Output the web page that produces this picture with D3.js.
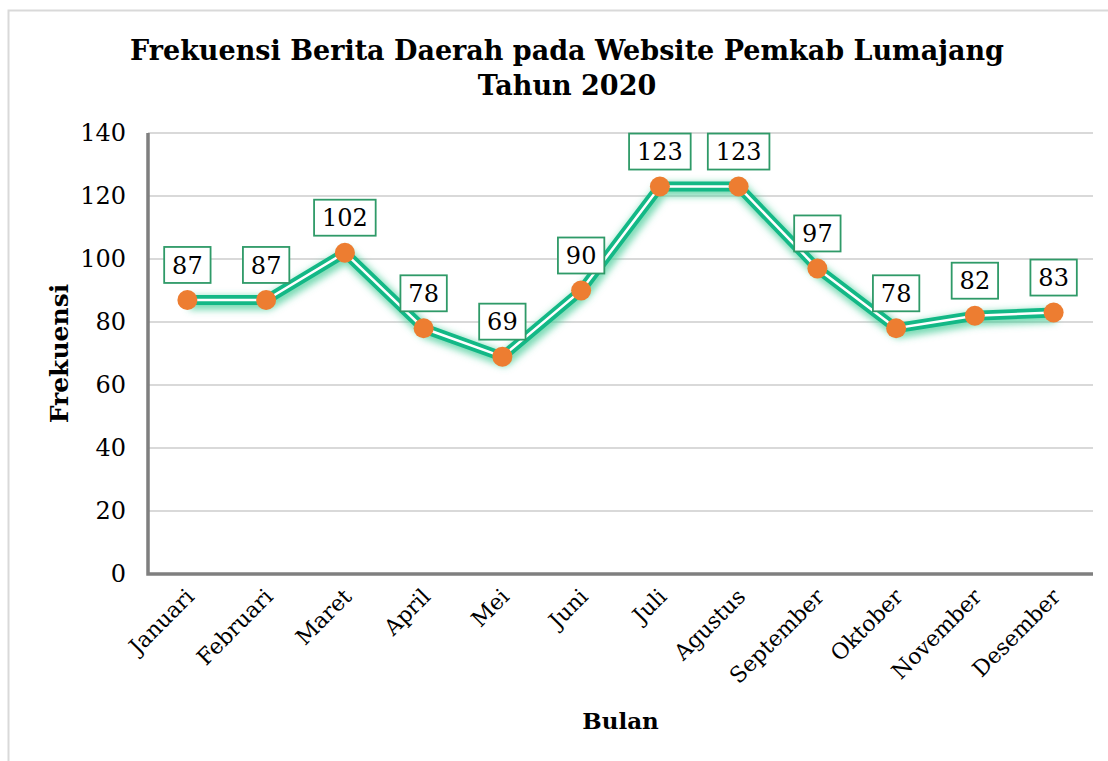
<!DOCTYPE html>
<html lang="id">
<head>
  <meta charset="UTF-8" />
  <title>Frekuensi Berita Daerah</title>
  <script src="https://d3js.org/d3.v7.min.js"></script>
  <style>
    body { margin: 0; background: #fff; }
    svg { display: block; font-family: "DejaVu Serif", serif; }
  </style>
</head>
<body>
  <div id="chart"></div>
  <script>
    const months = ["Januari", "Februari", "Maret", "April", "Mei", "Juni", "Juli",
      "Agustus", "September", "Oktober", "November", "Desember"];
    const counts = [87, 87, 102, 78, 69, 90, 123, 123, 97, 78, 82, 83];
    const yTicks = [0, 20, 40, 60, 80, 100, 120, 140];

    const width = 1108, height = 761;
    const margin = { top: 133, right: 15, bottom: 187, left: 148 };

    const svg = d3.select("#chart").append("svg")
      .attr("width", width)
      .attr("height", height);

    // outer chart border
    svg.append("rect")
      .attr("x", 8.5).attr("y", 10.5)
      .attr("width", width).attr("height", height)
      .attr("fill", "none")
      .attr("stroke", "#d9d9d9")
      .attr("stroke-width", 2);

    const x = d3.scaleBand()
      .domain(months)
      .range([margin.left, width - margin.right]);

    const y = d3.scaleLinear()
      .domain([0, 140])
      .range([height - margin.bottom, margin.top]);

    const defs = svg.append("defs");
    const glow = defs.append("filter").attr("id", "glow")
      .attr("x", "-10%").attr("y", "-30%").attr("width", "120%").attr("height", "160%");
    glow.append("feGaussianBlur").attr("stdDeviation", 3.5);

    // grid
    svg.append("g")
      .selectAll("line")
      .data(yTicks.filter(d => d > 0))
      .join("line")
      .attr("x1", margin.left).attr("x2", width - margin.right)
      .attr("y1", d => y(d)).attr("y2", d => y(d))
      .attr("stroke", "#d9d9d9")
      .attr("stroke-width", 2);

    // y axis
    const yAxis = svg.append("g")
      .attr("transform", `translate(${margin.left},0)`)
      .call(d3.axisLeft(y).tickValues(yTicks).tickSize(0).tickPadding(22));
    yAxis.select(".domain").remove();
    yAxis.selectAll("text")
      .attr("font-size", 24)
      .attr("font-family", "DejaVu Serif")
      .attr("fill", "#000");

    // x axis
    const xAxis = svg.append("g")
      .attr("transform", `translate(0,${height - margin.bottom})`)
      .call(d3.axisBottom(x).tickSize(0));
    xAxis.select(".domain").remove();
    xAxis.selectAll("text")
      .attr("font-size", 22)
      .attr("font-family", "DejaVu Serif")
      .attr("fill", "#000")
      .attr("text-anchor", "end")
      .attr("dy", 0)
      .attr("transform", "translate(6,22) rotate(-45)");

    // axis lines
    svg.append("path")
      .attr("d", `M${margin.left},${margin.top}V${height - margin.bottom}H${width - margin.right}`)
      .attr("fill", "none")
      .attr("stroke", "#7f7f7f")
      .attr("stroke-width", 3.5);

    const cx = d => x(d) + x.bandwidth() / 2;
    const pts = months.map((m, i) => [cx(m), y(counts[i])]);
    const line = d3.line();

    svg.append("path")
      .attr("d", line(pts.map(p => [p[0] + 2, p[1] + 3])))
      .attr("fill", "none")
      .attr("stroke", "#4fcf9c")
      .attr("stroke-opacity", 0.75)
      .attr("stroke-width", 14)
      .attr("stroke-linejoin", "round")
      .attr("filter", "url(#glow)");

    svg.append("path")
      .attr("d", line(pts))
      .attr("fill", "none")
      .attr("stroke", "#13b886")
      .attr("stroke-width", 10)
      .attr("stroke-linejoin", "miter");

    svg.append("path")
      .attr("d", line(pts))
      .attr("fill", "none")
      .attr("stroke", "#ffffff")
      .attr("stroke-width", 2.5)
      .attr("stroke-linejoin", "miter");

    svg.append("g")
      .selectAll("circle")
      .data(counts)
      .join("circle")
      .attr("cx", (d, i) => cx(months[i]))
      .attr("cy", d => y(d))
      .attr("r", 10)
      .attr("fill", "#ed7d31");

    // data labels
    const lab = svg.append("g")
      .selectAll("g")
      .data(counts)
      .join("g")
      .attr("transform", (d, i) => `translate(${cx(months[i])},${y(d) - 35})`);
    lab.append("rect")
      .attr("x", d => -(String(d).length * 7.6 + 8))
      .attr("y", -18)
      .attr("width", d => String(d).length * 15.2 + 16)
      .attr("height", 36)
      .attr("fill", "#fff")
      .attr("stroke", "#2f9a68")
      .attr("stroke-width", 1.8);
    lab.append("text")
      .attr("text-anchor", "middle")
      .attr("dy", "0.36em")
      .attr("font-size", 24)
      .text(d => d);

    // titles
    const title = svg.append("text")
      .attr("text-anchor", "middle")
      .attr("font-weight", "bold")
      .attr("font-size", 27);
    title.append("tspan").attr("x", 567).attr("y", 60)
      .text("Frekuensi Berita Daerah pada Website Pemkab Lumajang");
    title.append("tspan").attr("x", 567).attr("y", 95)
      .text("Tahun 2020");

    svg.append("text")
      .attr("x", (margin.left + width - margin.right) / 2)
      .attr("y", 729)
      .attr("text-anchor", "middle")
      .attr("font-weight", "bold")
      .attr("font-size", 23)
      .text("Bulan");

    svg.append("text")
      .attr("transform", `translate(68,${(y(0) + y(140)) / 2}) rotate(-90)`)
      .attr("text-anchor", "middle")
      .attr("font-weight", "bold")
      .attr("font-size", 25)
      .text("Frekuensi");
  </script>
</body>
</html>
